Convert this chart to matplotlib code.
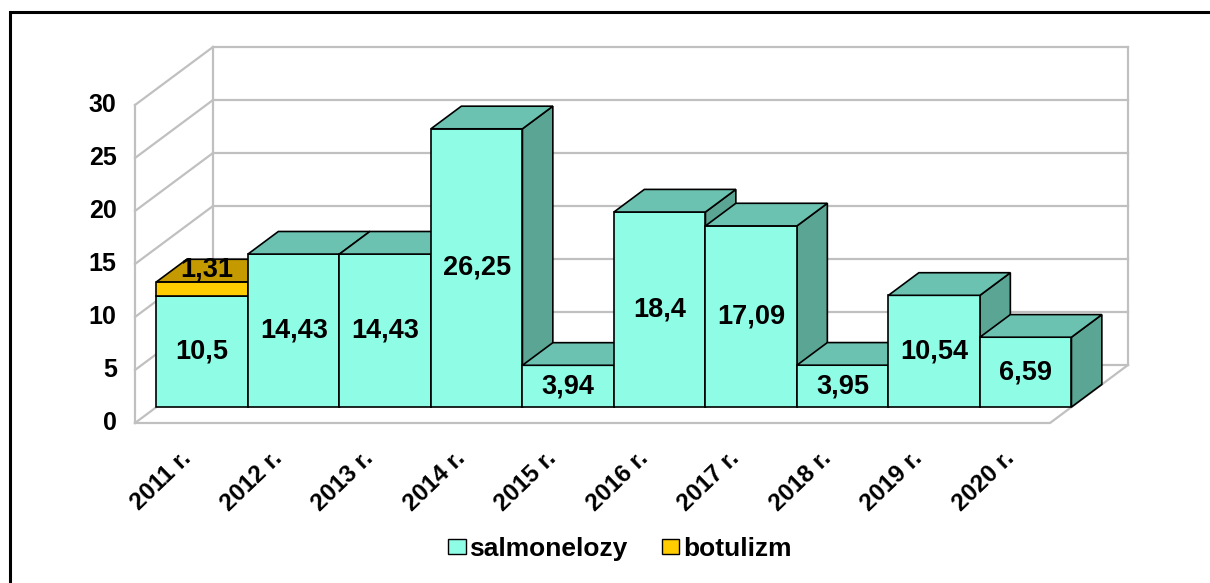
import matplotlib.pyplot as plt
from matplotlib.patches import Polygon, Rectangle, Patch

# data
years = ["2011 r.", "2012 r.", "2013 r.", "2014 r.", "2015 r.",
         "2016 r.", "2017 r.", "2018 r.", "2019 r.", "2020 r."]
salmonelozy = [10.5, 14.43, 14.43, 26.25, 3.94, 18.4, 17.09, 3.95, 10.54, 6.59]
botulizm = [1.31, 0, 0, 0, 0, 0, 0, 0, 0, 0]
series_names = ["salmonelozy", "botulizm"]
y_ticks = [0, 5, 10, 15, 20, 25, 30]

plt.rcParams['font.family'] = ['Liberation Sans', 'DejaVu Sans']

# colours: front, top, side for each series
colors = {
    "salmonelozy": ("#8ffde6", "#6cc2b0", "#5aa593"),
    "botulizm": ("#ffcc00", "#c49a00", "#a68300"),
}
grid_color = "#c0c0c0"

# 3d look: depth of whole plot box and of the bars (in data units)
DX, DY = 0.852, 5.47
F1, FD = 0.275, 0.39

fig = plt.figure(figsize=(12.1, 5.83), dpi=100)
ax = fig.add_axes([0, 0, 1, 1])
ax.set_xlim(-135 / 91.5, (1210 - 135) / 91.5)
ax.set_ylim((423 - 583) / 10.6, 423 / 10.6)
ax.axis('off')

# outer frame
fig.patches.append(Rectangle((10 / 1210, -0.1), 1.2, 1.1 - 12 / 583, transform=fig.transFigure,
                             fill=False, edgecolor="black", linewidth=2.2))

n = len(years)
ymax = max(y_ticks)

# walls and gridlines
for v in y_ticks:
    ax.plot([0, DX], [v, v + DY], color=grid_color, lw=1.6, zorder=1)
    ax.plot([DX, n + DX], [v + DY, v + DY], color=grid_color, lw=1.6, zorder=1)
    ax.text(-0.2, v, str(v), ha="right", va="center", fontsize=18, fontweight="bold")
ax.plot([0, 0], [0, ymax], color=grid_color, lw=1.6, zorder=1)
ax.plot([DX, DX], [DY, ymax + DY], color=grid_color, lw=1.6, zorder=1)
ax.plot([n + DX, n + DX], [DY, ymax + DY], color=grid_color, lw=1.6, zorder=1)
ax.plot([0, n, n + DX], [0, 0, DY], color=grid_color, lw=1.6, zorder=1)

# bars, drawn left to right so the next bar hides the previous side face
ddx, ddy = FD * DX, FD * DY
for i in range(n):
    x0 = i + F1 * DX
    base = F1 * DY
    for name, vals in zip(series_names, [salmonelozy, botulizm]):
        h = vals[i]
        if h <= 0:
            continue
        front, top, side = colors[name]
        y0, y1 = base, base + h
        ax.add_patch(Polygon([(x0 + 1, y0), (x0 + 1, y1), (x0 + 1 + ddx, y1 + ddy), (x0 + 1 + ddx, y0 + ddy)],
                             facecolor=side, edgecolor="black", lw=1.2, zorder=2))
        ax.add_patch(Rectangle((x0, y0), 1, h, facecolor=front, edgecolor="black", lw=1.2, zorder=2))
        ax.add_patch(Polygon([(x0, y1), (x0 + 1, y1), (x0 + 1 + ddx, y1 + ddy), (x0 + ddx, y1 + ddy)],
                             facecolor=top, edgecolor="black", lw=1.2, zorder=2))
        label = f"{h:g}".replace(".", ",")
        ly = (y0 + y1) / 2
        if name == "botulizm":
            ly += 1.8  # label sits up on the top face here
        ax.text(x0 + 0.5 + (0.05 if name == "botulizm" else 0), ly, label, ha="center", va="center",
                fontsize=19.5, fontweight="bold", zorder=5)
        base = y1

# category labels
for i, lab in enumerate(years):
    ax.text(i + 0.57, -3.0, lab, rotation=44, rotation_mode="anchor", ha="right", va="center",
            fontsize=17.5, fontweight="bold")

handles = [Patch(facecolor=colors[s][0], edgecolor="black", label=s) for s in series_names]
fig.legend(handles=handles, loc="center", bbox_to_anchor=(620 / 1210, 1 - 549 / 583), ncol=2,
           frameon=False, prop={"size": 19, "weight": "bold"}, handlelength=0.65, handleheight=0.5,
           handletextpad=0.15, columnspacing=1.3)

fig.savefig("out.png", dpi=100)
